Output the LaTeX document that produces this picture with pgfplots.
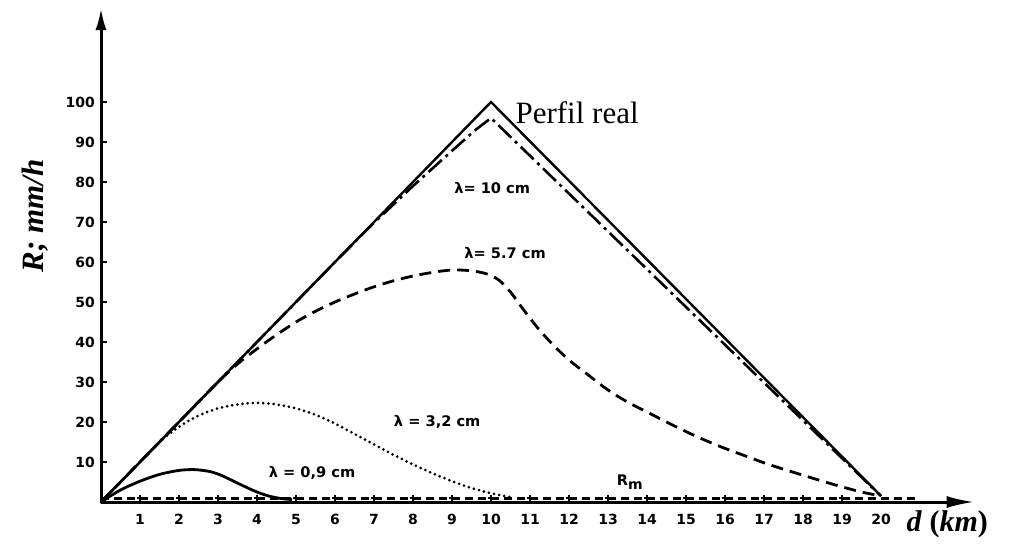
\documentclass[border=0pt]{standalone}
\usepackage{fontspec}
\setmainfont{Liberation Serif}
\newfontfamily\labelfont{DejaVu Sans}
\usepackage{pgfplots}
\pgfplotsset{compat=1.18}
\usetikzlibrary{arrows.meta}

\begin{document}
\begin{tikzpicture}
\useasboundingbox (-50.5pt,-20.5pt) rectangle (457pt,251pt);
\begin{axis}[
  at={(0pt,0pt)}, anchor=origin,
  x=19.5pt, y=2pt,
  xmin=0, xmax=22.4, ymin=0, ymax=123.5,
  axis x line=bottom, axis y line=left,
  axis line style={line width=1.5pt},
  x axis line style={-{Latex[length=14pt,width=6pt]}},
  y axis line style={-{Latex[length=11pt,width=5.5pt]}},
  xtick={1,...,20}, ytick={10,20,...,100},
  x tick style={draw=none},
  y tick style={line width=1.3pt, black},
  tick align=inside,
  major tick length=3pt,
  ticklabel style={font=\labelfont\bfseries\fontsize{7}{8}\selectfont},
  /pgf/number format/assume math mode=true,
  xticklabel style={yshift=-2.5pt},
  yticklabel style={xshift=0.5pt},
  clip=false,
  every axis plot/.append style={black, line width=1.4pt},
]

% real rain-rate profile
\addplot[line width=1.2pt] coordinates {(0,0) (10,100) (20,1.5)};

% lambda = 10 cm
\addplot[line width=1.3pt, dash pattern=on 9pt off 2.5pt on 1.5pt off 2.5pt] coordinates {
  (0,0) (6,60) (7,69.8) (8,79) (9,87.8) (9.6,93) (10,96) (20,1.5)};

% lambda = 5.7 cm
\addplot[smooth, tension=0.5, dash pattern=on 6pt off 3.5pt] coordinates {
  (0,0) (1,10) (2,20) (3,30) (3.5,34.5) (4,38.3) (4.5,41.8) (5,45)
  (5.5,47.7) (6,50) (6.5,52) (7,53.8) (7.5,55.3) (8,56.5) (8.5,57.4)
  (9,58) (9.5,57.8) (9.9,57) (10.2,55.5) (10.5,52.5) (10.8,48.5)
  (11.2,43.5) (11.6,39.2) (12,35.5) (12.5,31.7) (13,28) (13.5,25)
  (14,22.5) (14.5,20) (15,17.6) (15.5,15.4) (16,13.4) (16.5,11.6)
  (17,9.8) (17.5,8.2) (18,6.7) (18.5,5.2) (19,3.8) (19.5,2.5) (20,1.5)};

% lambda = 3.2 cm
\addplot[smooth, tension=0.5, line width=1.5pt, line cap=round, dash pattern=on 0pt off 2.6pt] coordinates {
  (0,0) (1,10) (1.5,15) (2,18.8) (2.5,21.6) (3,23.4) (3.5,24.4) (4,24.8)
  (4.5,24.4) (5,23.4) (5.5,21.8) (6,19.6) (6.5,17) (7,14.4) (7.5,11.8)
  (8,9.4) (8.5,7.2) (9,5.2) (9.5,3.5) (10,2.2) (10.5,1.2)};

% lambda = 0.9 cm
\addplot[smooth, tension=0.5] coordinates {
  (0,0) (0.5,3) (1,5.2) (1.5,6.9) (2,7.9) (2.4,8.1) (2.8,7.6) (3.1,6.6)
  (3.4,5.2) (3.7,3.8) (4,2.5) (4.3,1.5) (4.6,0.9) (4.9,0.6)};

% mean rain rate R_m
\addplot[line width=1.1pt, dash pattern=on 4pt off 2.5pt] coordinates {(0,0.9) (21,0.9)};
\addplot[only marks, mark=+, mark size=1.6pt, line width=1pt] coordinates {
  (1,0.9) (2,0.9) (3,0.9) (4,0.9) (5,0.9) (6,0.9) (7,0.9) (8,0.9) (9,0.9)
  (10,0.9) (11,0.9) (12,0.9) (13,0.9) (14,0.9) (15,0.9) (16,0.9) (17,0.9)
  (18,0.9) (19,0.9)};

% curve labels
\begin{scope}[every node/.style={font=\labelfont\bfseries\fontsize{7.3}{8}\selectfont, inner sep=0pt}]
\node at (axis cs:10.03,78.5) {λ= 10 cm};
\node at (axis cs:10.36,62.3) {λ= 5.7 cm};
\node at (axis cs:8.62,20.1) {λ = 3,2 cm};
\node at (axis cs:5.41,7.25) {λ = 0,9 cm};
\node at (axis cs:13.56,4.9) {R\raisebox{-2pt}{\fontsize{7}{8}\selectfont m}};
\end{scope}

\node[anchor=base west, inner sep=0pt, font=\fontsize{15.5}{17}\selectfont]
  at (axis cs:10.62,94.7) {Perfil real};

% axis titles
\node[rotate=90, font=\bfseries\itshape\fontsize{15.5}{17}\selectfont]
  at (axis cs:-1.69,71.5) {R; mm/h};
\node[font=\bfseries\fontsize{15}{17}\selectfont]
  at (axis cs:21.7,-5.5) {\textit{d} (\textit{km})};

\end{axis}
\end{tikzpicture}
\end{document}
